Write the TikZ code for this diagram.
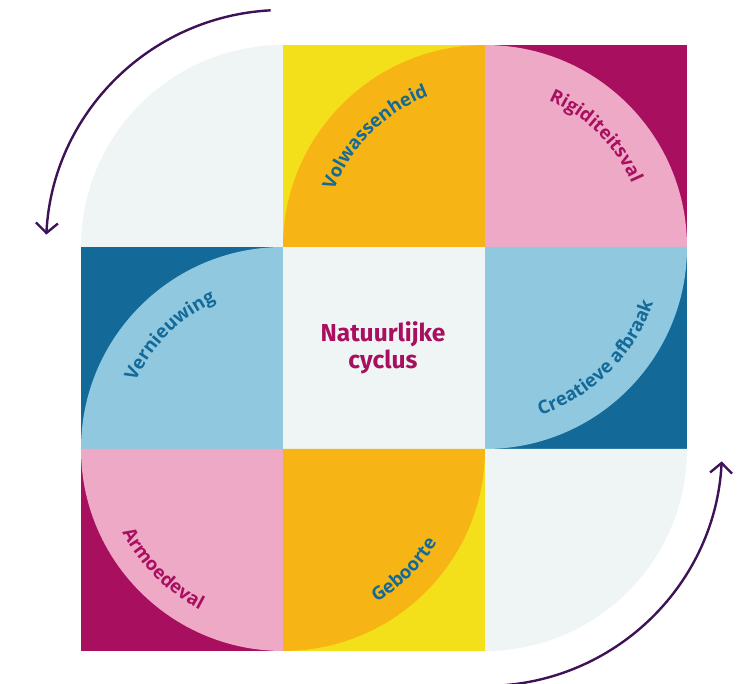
\documentclass[tikz,border=0pt]{standalone}
\usepackage{fontspec}
\usepackage{tikz}
\usetikzlibrary{arrows.meta,decorations.text}

\newfontfamily\arcfont{Open Sans}
\newfontfamily\centrefont{Fira Sans}

\definecolor{cgray}{HTML}{EFF5F5}
\definecolor{cyellow}{HTML}{F4E01A}
\definecolor{corange}{HTML}{F6B514}
\definecolor{cmagenta}{HTML}{A80F5E}
\definecolor{cpink}{HTML}{EEA9C6}
\definecolor{cdblue}{HTML}{136A99}
\definecolor{clblue}{HTML}{90C8DF}
\definecolor{cpurple}{HTML}{3E1256}

\begin{document}
\begin{tikzpicture}[x=1pt,y=1pt,
  cycle arrow/.style={draw=cpurple,line width=2.4pt,-{Straight Barb[length=10pt,width=22pt]}},
  blue label/.style={decorate,decoration={text along path,text align=center,
      text={|\arcfont\bfseries\fontsize{18.5}{22}\selectfont\color{cdblue}|#1}}},
  pink label/.style={decorate,decoration={text along path,text align=center,
      text={|\arcfont\bfseries\fontsize{18.5}{22}\selectfont\color{cmagenta}|#1}}}]
  \useasboundingbox (0,0) rectangle (744,683);

  % bovenste rij
  \fill[cgray] (283,436) -- (81,436) arc[start angle=180,end angle=90,radius=202] -- cycle;
  \fill[cyellow] (283,436) rectangle (485,638);
  \fill[corange] (485,436) -- (283,436) arc[start angle=180,end angle=90,radius=202] -- cycle;
  \fill[cmagenta] (485,436) rectangle (687,638);
  \fill[cpink] (485,436) -- (687,436) arc[start angle=0,end angle=90,radius=202] -- cycle;

  % middelste rij
  \fill[cdblue] (81,234) rectangle (283,436);
  \fill[clblue] (283,234) -- (81,234) arc[start angle=180,end angle=90,radius=202] -- cycle;
  \fill[cgray] (283,234) rectangle (485,436);
  \fill[cdblue] (485,234) rectangle (687,436);
  \fill[clblue] (485,436) -- (687,436) arc[start angle=0,end angle=-90,radius=202] -- cycle;

  % onderste rij
  \fill[cmagenta] (81,32) rectangle (283,234);
  \fill[cpink] (283,234) -- (81,234) arc[start angle=180,end angle=270,radius=202] -- cycle;
  \fill[cyellow] (283,32) rectangle (485,234);
  \fill[corange] (283,234) -- (485,234) arc[start angle=0,end angle=-90,radius=202] -- cycle;
  \fill[cgray] (485,234) -- (687,234) arc[start angle=0,end angle=-90,radius=202] -- cycle;

  % fasen
  \path[blue label=Volwassenheid] (485,436) ++(180:161) arc[start angle=180,end angle=90,radius=161];
  \path[pink label=Rigiditeitsval] (485,436) ++(90:160) arc[start angle=90,end angle=0,radius=160];
  \path[blue label=Vernieuwing] (283,234) ++(180:162) arc[start angle=180,end angle=90,radius=162];
  \path[blue label=Creatieve afbraak] (485,436) ++(-90:177) arc[start angle=-90,end angle=0,radius=177];
  \path[pink label=Armoedeval] (283,234) ++(180:181) arc[start angle=180,end angle=270,radius=181];
  \path[blue label=Geboorte] (283,234) ++(-90:180) arc[start angle=-90,end angle=0,radius=180];

  \node[align=center,text=cmagenta,font=\centrefont\bfseries\fontsize{24.5}{27}\selectfont] (natuur) at (383,335) {Natuurlijke\\cyclus};

  % pijlen
  \coordinate (start top) at ([shift={(93:237)}]283,436);
  \coordinate (start bottom) at ([shift={(-87:237)}]485,234);
  \draw[cycle arrow] (start top) arc[start angle=93,end angle=177,radius=237];
  \draw[cycle arrow] (start bottom) arc[start angle=-87,end angle=-3,radius=237];
\end{tikzpicture}
\end{document}
